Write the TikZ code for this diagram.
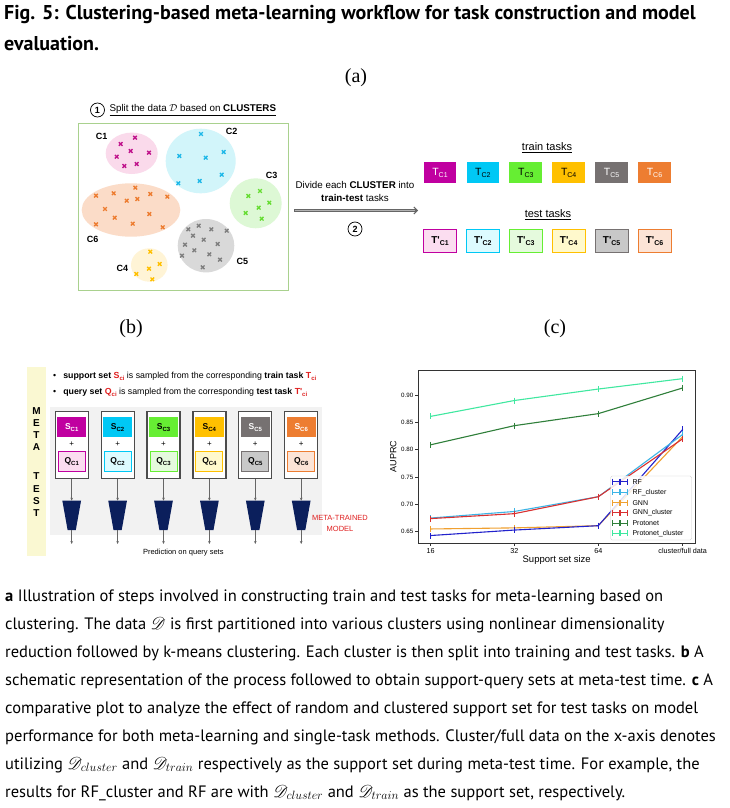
\documentclass[tikz,border=0pt]{standalone}
\usepackage{fontspec}
\usepackage{amsmath,amssymb,mathrsfs}
\usetikzlibrary{shapes,arrows.meta,calc,plotmarks}
\setmainfont{Liberation Serif}
\newfontfamily\arialf{Liberation Sans}
\newfontfamily\titlef{PT Sans}
\newfontfamily\capf{PT Sans}
\newcommand{\fs}[1]{\fontsize{#1}{1.2\dimexpr #1pt}\selectfont}
\newcommand{\sub}[1]{\raisebox{-1.8pt}{\fs{6}#1}}
\newcommand{\subl}[1]{\raisebox{-2pt}{\fs{7}#1}}
\newcommand{\xm}[3]{\draw[xmk,#1] (#2,#3) ++(-1.8,-1.8) -- ++(3.6,3.6) ++(0,-3.6) -- ++(-3.6,3.6);}
\newcommand{\py}[1]{{531.7-(#1-0.65)*546.6}}
% funnel: name, x
\newcommand{\funnel}[2]{%
  \fill[navy] (#2-9.35,500.7) -- (#2+9.35,500.7) -- (#2+4.1,530) -- (#2-4.1,530) -- cycle;
  \coordinate (#1t) at (#2,500.7); \coordinate (#1b) at (#2,530);}

\definecolor{cA}{HTML}{C0148C}\definecolor{cAl}{HTML}{FADAEB}
\definecolor{cB}{HTML}{1FB8E8}\definecolor{cBl}{HTML}{D2F5FA}
\definecolor{cC}{HTML}{66DD33}\definecolor{cCl}{HTML}{DDF8D5}
\definecolor{cD}{HTML}{FFC000}\definecolor{cDl}{HTML}{FFF4D6}
\definecolor{cE}{HTML}{7F7F7F}\definecolor{cEl}{HTML}{D9D9D9}
\definecolor{cF}{HTML}{ED7D31}\definecolor{cFl}{HTML}{FBDCC8}
\definecolor{tA}{HTML}{C000A0}\definecolor{qA}{HTML}{FBDDF0}
\definecolor{tB}{HTML}{00C8F5}\definecolor{qB}{HTML}{DDFBFF}
\definecolor{tC}{HTML}{66EE33}\definecolor{qC}{HTML}{E5FADD}
\definecolor{tD}{HTML}{FFC000}\definecolor{qD}{HTML}{FFF9CC}
\definecolor{tE}{HTML}{767171}\definecolor{qE}{HTML}{C8C8C8}
\definecolor{tF}{HTML}{ED7D31}\definecolor{qF}{HTML}{FCE4D6}
\definecolor{frame}{HTML}{A9D18E}
\definecolor{navy}{HTML}{0B1F5C}
\definecolor{redt}{HTML}{E02020}
\definecolor{ylw}{HTML}{FAF8D2}
\definecolor{bgg}{HTML}{F2F2F2}
\definecolor{lrf}{HTML}{2222CC}\definecolor{lrfc}{HTML}{3CB4E6}
\definecolor{lgnn}{HTML}{F0A030}\definecolor{lgnnc}{HTML}{D93030}
\definecolor{lpn}{HTML}{2F7F3A}\definecolor{lpnc}{HTML}{40E8A0}

\tikzset{
  xmk/.style={line width=1.4pt},
  clab/.style={font=\arialf\bfseries\fs{9}},
  numc/.style={circle,draw,line width=0.7pt,minimum size=14pt,inner sep=0pt,font=\arialf\bfseries\fs{9}},
  trbox/.style={minimum width=32.7pt,minimum height=21.7pt,inner sep=0pt,font=\arialf\fs{10.5}},
  tebox/.style={draw,line width=0.9pt,minimum width=33pt,minimum height=23pt,inner sep=0pt,font=\arialf\bfseries\fs{10}},
  colbox/.style={draw=black!70,line width=1.2pt,fill=white,minimum width=33pt,minimum height=67pt,inner sep=0pt},
  sbox/.style={minimum width=29pt,minimum height=20pt,inner sep=0pt,font=\arialf\bfseries\fs{8.5}},
  qbox/.style={draw,line width=1pt,minimum width=27pt,minimum height=20pt,inner sep=0pt,font=\arialf\bfseries\fs{8.5}},
  flow/.style={draw=black!60,line width=0.6pt,-{Stealth[length=3pt,width=2.6pt]}},
  ser/.style={line width=1.1pt,mark=|,mark size=3pt},
  capline/.style={anchor=west,font=\capf\fs{16.5},inner sep=0pt}
}

\begin{document}
\begin{tikzpicture}[x=1pt,y=-1pt]
\useasboundingbox (0,0) rectangle (729,808);
\fill[white] (0,0) rectangle (729,808);

% title
\node[anchor=west,inner sep=0pt,font=\titlef\bfseries\fs{20}] (title1) at (4,14) {Fig. 5: Clustering-based meta-learning workflow for task construction and model};
\node[anchor=west,inner sep=0pt,font=\titlef\bfseries\fs{20}] (title2) at (4,44) {evaluation.};
\node[font=\fs{20}] (la) at (356,78) {(a)};
\node[font=\fs{20}] (lb) at (131,329) {(b)};
\node[font=\fs{20}] (lc) at (555,329) {(c)};

% panel a: clusters
\node[numc] (n1) at (97.5,110) {1};
\node[anchor=west,font=\arialf\fs{9.8}] (split) at (106,110) {\underline{Split the data $\mathcal{D}$ based on \textbf{CLUSTERS}}};
\draw[frame,line width=1pt] (78.3,123.3) rectangle (288.3,290);
\fill[cAl] (131.7,153.3) ellipse (26pt and 20.7pt);
\fill[cBl] (200.7,161) ellipse (35pt and 32.3pt);
\fill[cCl] (255.7,203.3) ellipse (26pt and 25pt);
\fill[cFl] (131,210) ellipse (49.3pt and 26.7pt);
\fill[cEl] (206,245.7) ellipse (28.3pt and 26.7pt);
\fill[cDl] (149.3,265) ellipse (18.3pt and 16.7pt);
\node[clab] (c1) at (101.7,136.7) {C1};
\node[clab] (c2) at (231.7,131.7) {C2};
\node[clab] (c3) at (271.7,175) {C3};
\node[clab] (c4) at (122.3,268.3) {C4};
\node[clab] (c5) at (242.3,261.7) {C5};
\node[clab] (c6) at (92.7,239.3) {C6};
\xm{cA}{135}{137.7}\xm{cA}{120.7}{144}\xm{cA}{130.7}{151}\xm{cA}{149}{152.7}
\xm{cA}{116.7}{156.7}\xm{cA}{136.7}{164}\xm{cA}{124.3}{166}
\xm{cB}{201}{134}\xm{cB}{223.7}{152}\xm{cB}{179.3}{156}\xm{cB}{205.7}{157.7}
\xm{cB}{221.7}{174.7}\xm{cB}{199.7}{181}\xm{cB}{178.3}{183.3}
\xm{cC}{260}{191}\xm{cC}{248.3}{196}\xm{cC}{269.3}{202.7}\xm{cC}{258.7}{207.7}
\xm{cC}{245.7}{213}\xm{cC}{261.7}{218.7}
\xm{cF}{135.3}{187.7}\xm{cF}{113.7}{193.3}\xm{cF}{150.3}{194}\xm{cF}{96}{195.7}
\xm{cF}{167.3}{196.7}\xm{cF}{126.7}{200.7}\xm{cF}{137.3}{199}\xm{cF}{105}{209}
\xm{cF}{114.7}{217.7}\xm{cF}{149.3}{214}\xm{cF}{96}{224.3}\xm{cF}{132.7}{223.7}
\xm{cF}{162.7}{227.3}
\xm{cE}{198.7}{225.7}\xm{cE}{188.3}{229.3}\xm{cE}{211.3}{229.3}\xm{cE}{226.7}{230.7}
\xm{cE}{193}{235.7}\xm{cE}{203.7}{239.7}\xm{cE}{217.7}{244}\xm{cE}{185}{244.7}
\xm{cE}{194.3}{250.3}\xm{cE}{209.3}{254.3}\xm{cE}{182}{255.7}\xm{cE}{220}{259.7}
\xm{cE}{202.7}{267.3}
\xm{cD}{150.3}{251.7}\xm{cD}{159.7}{264}\xm{cD}{149}{268.7}\xm{cD}{136.3}{274}
\xm{cD}{152.3}{279.3}

% panel a: split arrow
\node[font=\arialf\fs{9.8}] (div1) at (355,185) {Divide each \textbf{CLUSTER} into};
\node[font=\arialf\fs{9.8}] (div2) at (355,197.5) {\textbf{train-test} tasks};
\coordinate (a0) at (294,210.5);
\coordinate (a1) at (418,210.5);
\draw[line width=2.6pt,black!60,-{Straight Barb[length=3.5pt,width=7pt,line width=1pt]}] (a0) -- (a1);
\draw[line width=1.1pt,black!30] ($(a0)+(0.8,0)$) -- ($(a1)+(-3,0)$);
\node[numc] (n2) at (355,229) {2};

% panel a: tasks
\node[font=\arialf\fs{11}] (trl) at (547,148) {\underline{train tasks}};
\node[font=\arialf\fs{11}] (tel) at (548,215) {\underline{test tasks}};
\node[trbox,fill=tA,text=white] (tc1) at (440,172.5) {T\subl{C1}};
\node[trbox,fill=tB] (tc2) at (482.9,172.5) {T\subl{C2}};
\node[trbox,fill=tC] (tc3) at (525.8,172.5) {T\subl{C3}};
\node[trbox,fill=tD] (tc4) at (568.7,172.5) {T\subl{C4}};
\node[trbox,fill=tE,text=white] (tc5) at (611.6,172.5) {T\subl{C5}};
\node[trbox,fill=tF,text=white] (tc6) at (654.5,172.5) {T\subl{C6}};
\node[tebox,draw=tA,fill=qA] (tt1) at (440,240.8) {T'\subl{C1}};
\node[tebox,draw=tB,fill=qB] (tt2) at (482.9,240.8) {T'\subl{C2}};
\node[tebox,draw=tC,fill=qC] (tt3) at (525.8,240.8) {T'\subl{C3}};
\node[tebox,draw=tD,fill=qD] (tt4) at (568.7,240.8) {T'\subl{C4}};
\node[tebox,draw=tE,fill=qE] (tt5) at (611.6,240.8) {T'\subl{C5}};
\node[tebox,draw=tF,fill=qF] (tt6) at (654.5,240.8) {T'\subl{C6}};

% panel b
\fill[ylw] (27,367) rectangle (46,556);
\node[font=\arialf\bfseries\fontsize{10}{12.3}\selectfont,align=center,inner sep=0pt] (meta) at (36.5,462) {M\\E\\T\\A\\[16.7pt]T\\E\\S\\T};
\node[anchor=west,font=\arialf\fs{8.8},inner sep=0pt] (b1) at (53,376.7)
  {\textbullet\hspace{7pt}\textbf{support set} \textcolor{redt}{\textbf{S\sub{ci}}} is sampled from the corresponding \textbf{train task} \textcolor{redt}{\textbf{T\sub{ci}}}};
\node[anchor=west,font=\arialf\fs{8.8},inner sep=0pt] (b2) at (53,392.3)
  {\textbullet\hspace{7pt}\textbf{query set} \textcolor{redt}{\textbf{Q\sub{ci}}} is sampled from the corresponding \textbf{test task} \textcolor{redt}{\textbf{T'\sub{ci}}}};
\fill[bgg] (50,407) rectangle (322,535);

\node[colbox] (k1) at (71.7,445) {};
\node[colbox] (k2) at (117.6,445) {};
\node[colbox] (k3) at (163.5,445) {};
\node[colbox] (k4) at (209.4,445) {};
\node[colbox] (k5) at (255.3,445) {};
\node[colbox] (k6) at (301.2,445) {};
\node[sbox,fill=tA,text=white] (s1) at (71.7,427.3) {S\sub{C1}};
\node[sbox,fill=tB] (s2) at (117.6,427.3) {S\sub{C2}};
\node[sbox,fill=tC] (s3) at (163.5,427.3) {S\sub{C3}};
\node[sbox,fill=tD] (s4) at (209.4,427.3) {S\sub{C4}};
\node[sbox,fill=tE,text=white] (s5) at (255.3,427.3) {S\sub{C5}};
\node[sbox,fill=tF,text=white] (s6) at (301.2,427.3) {S\sub{C6}};
\node[font=\arialf\fs{8}] (p1) at (71.7,444) {+};
\node[font=\arialf\fs{8}] (p2) at (117.6,444) {+};
\node[font=\arialf\fs{8}] (p3) at (163.5,444) {+};
\node[font=\arialf\fs{8}] (p4) at (209.4,444) {+};
\node[font=\arialf\fs{8}] (p5) at (255.3,444) {+};
\node[font=\arialf\fs{8}] (p6) at (301.2,444) {+};
\node[qbox,draw=tA,fill=qA] (q1) at (71.7,461.7) {Q\sub{C1}};
\node[qbox,draw=tB,fill=qB] (q2) at (117.6,461.7) {Q\sub{C2}};
\node[qbox,draw=tC,fill=qC] (q3) at (163.5,461.7) {Q\sub{C3}};
\node[qbox,draw=tD,fill=qD] (q4) at (209.4,461.7) {Q\sub{C4}};
\node[qbox,draw=tE,fill=qE] (q5) at (255.3,461.7) {Q\sub{C5}};
\node[qbox,draw=tF,fill=qF] (q6) at (301.2,461.7) {Q\sub{C6}};
\funnel{f1}{71.7}
\funnel{f2}{117.6}
\funnel{f3}{163.5}
\funnel{f4}{209.4}
\funnel{f5}{255.3}
\funnel{f6}{301.2}
\coordinate (e1) at (71.7,544);
\coordinate (e2) at (117.6,544);
\coordinate (e3) at (163.5,544);
\coordinate (e4) at (209.4,544);
\coordinate (e5) at (255.3,544);
\coordinate (e6) at (301.2,544);
\draw[flow] (k1) -- (f1t); \draw[flow] (f1b) -- (e1);
\draw[flow] (k2) -- (f2t); \draw[flow] (f2b) -- (e2);
\draw[flow] (k3) -- (f3t); \draw[flow] (f3b) -- (e3);
\draw[flow] (k4) -- (f4t); \draw[flow] (f4b) -- (e4);
\draw[flow] (k5) -- (f5t); \draw[flow] (f5b) -- (e5);
\draw[flow] (k6) -- (f6t); \draw[flow] (f6b) -- (e6);
\node[font=\arialf\fs{7.5}] (pred) at (183.3,552.7) {Prediction on query sets};
\node[font=\arialf\fontsize{7.5}{11}\selectfont,text=redt,align=center] (mtm) at (340,523.8) {META-TRAINED\\MODEL};

% panel c: plot
\draw[black!80,line width=0.6pt] (418.3,370.7) rectangle (695.5,543.3);
\foreach \v/\t in {0.65/0.65,0.70/0.70,0.75/0.75,0.80/0.80,0.85/0.85,0.90/0.90}{
  \draw[black!80,line width=0.5pt] (418.3,\py{\v}) -- (415.3,\py{\v});
  \node[anchor=east,font=\arialf\fs{6.2},inner sep=1pt] (yt\t) at (414.5,\py{\v}) {\t};
}
\foreach \x/\t/\n in {430.7/16/a,514.3/32/b,598.3/64/c,682.7/cluster\slash full data/d}{
  \draw[black!80,line width=0.5pt] (\x,543.3) -- (\x,546.3);
  \node[font=\arialf\fs{7.2},inner sep=0pt] (xt\n) at (\x,550.7) {\t};
}
\node[font=\arialf\fs{9},rotate=90] (ylab) at (393.3,456.7) {AUPRC};
\node[font=\arialf\fs{9.5}] (xlab) at (556.7,560) {Support set size};
\draw[ser,lpnc] plot coordinates {(430.7,\py{0.861}) (514.3,\py{0.890}) (598.3,\py{0.911}) (682.7,\py{0.930})};
\draw[ser,lpn] plot coordinates {(430.7,\py{0.809}) (514.3,\py{0.844}) (598.3,\py{0.866}) (682.7,\py{0.913})};
\draw[ser,lgnn] plot coordinates {(430.7,\py{0.655}) (514.3,\py{0.657}) (598.3,\py{0.661}) (682.7,\py{0.824})};
\draw[ser,lrf] plot coordinates {(430.7,\py{0.643}) (514.3,\py{0.653}) (598.3,\py{0.661}) (682.7,\py{0.837})};
\draw[ser,lrfc] plot coordinates {(430.7,\py{0.675}) (514.3,\py{0.687}) (598.3,\py{0.714}) (682.7,\py{0.828})};
\draw[ser,lgnnc] plot coordinates {(430.7,\py{0.674}) (514.3,\py{0.683}) (598.3,\py{0.714}) (682.7,\py{0.820})};
% legend
\draw[black!20,fill=white,fill opacity=0.85,rounded corners=1.5pt] (610.7,476) rectangle (691.7,540);
\foreach \c/\t/\yy in {lrf/RF/481.7,lrfc/RF\_cluster/492.2,lgnn/GNN/502.6,lgnnc/GNN\_cluster/512.9,lpn/Protonet/523.1,lpnc/Protonet\_cluster/533.3}{
  \draw[ser,\c] plot coordinates {(612.7,\yy) (620,\yy) (627.3,\yy)};
  \node[anchor=west,font=\arialf\fs{7},inner sep=0pt] (lg\c) at (632.3,\yy) {\t};
}

% caption
\node[capline] (cap1) at (5,597) {\textbf{a} Illustration of steps involved in constructing train and test tasks for meta-learning based on};
\node[capline] (cap2) at (5,625) {clustering. The data $\mathscr{D}$ is first partitioned into various clusters using nonlinear dimensionality};
\node[capline] (cap3) at (5,653) {reduction followed by k-means clustering. Each cluster is then split into training and test tasks. \textbf{b} A};
\node[capline] (cap4) at (5,681) {schematic representation of the process followed to obtain support-query sets at meta-test time. \textbf{c} A};
\node[capline] (cap5) at (5,709) {comparative plot to analyze the effect of random and clustered support set for test tasks on model};
\node[capline] (cap6) at (5,737) {performance for both meta-learning and single-task methods. Cluster/full data on the x-axis denotes};
\node[capline] (cap7) at (5,765) {utilizing $\mathscr{D}_{cluster}$ and $\mathscr{D}_{train}$ respectively as the support set during meta-test time. For example, the};
\node[capline] (cap8) at (5,793) {results for RF\_cluster and RF are with $\mathscr{D}_{cluster}$ and $\mathscr{D}_{train}$ as the support set, respectively.};
\end{tikzpicture}
\end{document}
